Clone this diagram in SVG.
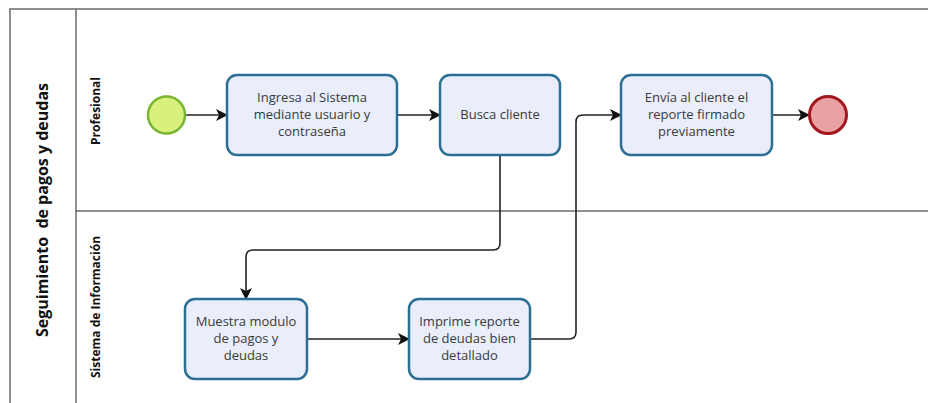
<svg xmlns="http://www.w3.org/2000/svg" width="928" height="403" viewBox="0 0 928 403">
  <style>
    .lane { fill: none; stroke: #6b6b6b; stroke-width: 1.5; }
    .task rect { fill: #e9eefa; stroke: #2d6f93; stroke-width: 2.5; }
    .task text { font-family: "Open Sans", "Noto Sans", sans-serif; font-size: 13px; fill: #3a3a3a; text-anchor: middle; }
    .label { font-family: "Open Sans", "Noto Sans", sans-serif; font-weight: bold; fill: #111; text-anchor: middle; white-space: pre; }
    .flow { fill: none; stroke: #222; stroke-width: 1.6; marker-end: url(#arrow); }
  </style>
  <defs>
    <marker id="arrow" viewBox="0 0 12 12" refX="11" refY="6" markerWidth="12" markerHeight="12" markerUnits="userSpaceOnUse" orient="auto">
      <path d="M0,0 L12,6 L0,12 L3,6 Z" fill="#111"/>
    </marker>
  </defs>

  <rect width="928" height="403" fill="#ffffff"/>

  <!-- pool and lanes -->
  <g id="pool">
    <path class="lane" d="M928,9 H10 V403"/>
    <path class="lane" d="M76,9 V403"/>
    <path class="lane" d="M76,211 H928"/>
    <text class="label" font-size="16" transform="translate(48,210) rotate(-90)">Seguimiento  de pagos y deudas</text>
  </g>
  <g id="lane-profesional">
    <text class="label" font-size="12" transform="translate(100,111) rotate(-90)">Profesional</text>
  </g>
  <g id="lane-sistema">
    <text class="label" font-size="12" transform="translate(100,307) rotate(-90)">Sistema de Información</text>
  </g>

  <!-- sequence flows -->
  <g id="connectors">
    <path class="flow" d="M186,115 H227"/>
    <path class="flow" d="M397,115 H440"/>
    <path class="flow" d="M500,155 V243 Q500,250 493,250 H253 Q246,250 246,257 V299"/>
    <path class="flow" d="M307,339 H409"/>
    <path class="flow" d="M530,339 H569 Q576,339 576,332 V122 Q576,115 583,115 H621"/>
    <path class="flow" d="M772,115 H809"/>
  </g>

  <!-- events -->
  <g id="start">
    <circle cx="166.5" cy="115" r="18.5" fill="#d8f07c" stroke="#79b533" stroke-width="2.5"/>
  </g>
  <g id="end">
    <circle cx="828" cy="115" r="18.5" fill="#e9a1a3" stroke="#a3161f" stroke-width="3"/>
  </g>

  <!-- tasks -->
  <g id="task-ingresa" class="task">
    <rect x="227" y="75" width="170" height="80" rx="10"/>
    <text x="312" y="102">Ingresa al Sistema</text>
    <text x="312" y="119">mediante usuario y</text>
    <text x="312" y="136">contraseña</text>
  </g>
  <g id="task-busca" class="task">
    <rect x="440" y="75" width="120" height="80" rx="10"/>
    <text x="500" y="119">Busca cliente</text>
  </g>
  <g id="task-envia" class="task">
    <rect x="621" y="75" width="151" height="80" rx="10"/>
    <text x="696.5" y="102">Envía al cliente el</text>
    <text x="696.5" y="119">reporte firmado</text>
    <text x="696.5" y="136">previamente</text>
  </g>
  <g id="task-muestra" class="task">
    <rect x="185" y="299" width="122" height="80" rx="10"/>
    <text x="246" y="326">Muestra modulo</text>
    <text x="246" y="343">de pagos y</text>
    <text x="246" y="360">deudas</text>
  </g>
  <g id="task-imprime" class="task">
    <rect x="409" y="299" width="121" height="80" rx="10"/>
    <text x="469.5" y="326">Imprime reporte</text>
    <text x="469.5" y="343">de deudas bien</text>
    <text x="469.5" y="360">detallado</text>
  </g>
</svg>
